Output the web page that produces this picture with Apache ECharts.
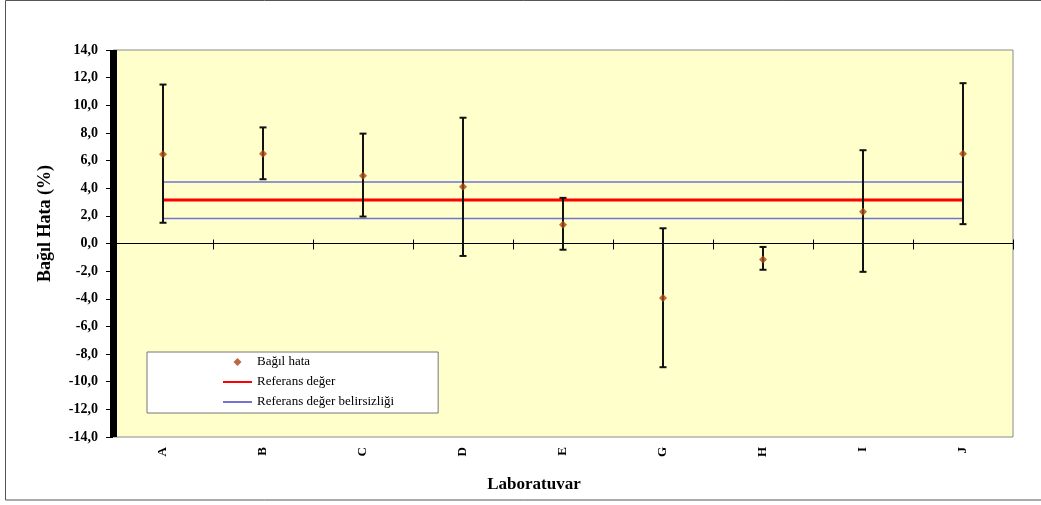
<!DOCTYPE html>
<html>
<head>
<meta charset="utf-8">
<script src="https://cdn.jsdelivr.net/npm/echarts@6/dist/echarts.min.js"></script>
<style>html,body{margin:0;padding:0;background:#fff}#c{width:1041px;height:505px}</style>
</head>
<body>
<div id="c"></div>
<script>
// ---- data ----
var labs = ['A', 'B', 'C', 'D', 'E', 'G', 'H', 'I', 'J'];
var relErr = [6.45, 6.5, 4.9, 4.1, 1.35, -3.95, -1.15, 2.3, 6.5];
var upper = [11.5, 8.4, 7.95, 9.1, 3.3, 1.1, -0.25, 6.75, 11.6];
var lower = [1.5, 4.65, 1.95, -0.9, -0.45, -8.95, -1.9, -2.05, 1.4];
var refValue = 3.15;
var refUpper = 4.45;
var refLower = 1.8;
var yTicks = { min: -14, max: 14, interval: 2 };

var serif = "'Liberation Serif', 'DejaVu Serif', serif";
var chart = echarts.init(document.getElementById('c'));
var errData = labs.map(function (l, i) { return [i, lower[i], upper[i]]; });

chart.setOption({
  backgroundColor: '#ffffff',
  animation: false,
  graphic: [{
    type: 'rect', z: -10, silent: true,
    shape: { x: 5.5, y: 0.5, width: 1100, height: 499.5 },
    style: { fill: 'none', stroke: '#555', lineWidth: 1 }
  }],
  grid: {
    left: 113, right: 28, top: 50, bottom: 68,
    show: true, backgroundColor: '#FFFFCC', borderColor: '#8a8a8a', borderWidth: 1
  },
  legend: {
    orient: 'vertical',
    left: 147, top: 352,
    padding: [3, 44, 4, 75],
    backgroundColor: '#ffffff',
    borderColor: '#777', borderWidth: 1,
    itemWidth: 29, itemHeight: 8, itemGap: 6,
    symbolKeepAspect: true,
    textStyle: { fontFamily: serif, fontSize: 13, color: '#000', lineHeight: 14 },
    data: [
      { name: 'Bağıl hata', icon: 'path://M4,0L8,4L4,8L0,4Z' },
      { name: 'Referans değer', itemStyle: { opacity: 0 } },
      { name: 'Referans değer belirsizliği', itemStyle: { opacity: 0 } }
    ]
  },
  xAxis: [{
    type: 'category', data: labs, position: 'bottom', boundaryGap: true,
    axisLine: { onZero: true, lineStyle: { color: '#000', width: 1 } },
    axisTick: { show: true, length: 6, lineStyle: { color: '#000' } },
    axisLabel: { show: false }, splitLine: { show: false }
  }, {
    type: 'category', data: labs, position: 'top', boundaryGap: true,
    axisLine: { onZero: true, lineStyle: { color: '#000', width: 1 } },
    axisTick: { show: true, length: 4, lineStyle: { color: '#000' } },
    axisLabel: { show: false }, splitLine: { show: false }
  }, {
    type: 'category', data: labs, position: 'bottom', boundaryGap: true,
    axisLine: { show: false, onZero: false }, axisTick: { show: false },
    axisLabel: {
      show: true, rotate: 90, margin: 10,
      fontFamily: serif, fontWeight: 'bold', fontSize: 13, color: '#000'
    },
    name: 'Laboratuvar', nameLocation: 'middle', nameGap: 39,
    nameTextStyle: { fontFamily: serif, fontWeight: 'bold', fontSize: 17, color: '#000', padding: [0, 58, 0, 0] }
  }],
  yAxis: [{
    type: 'value', min: yTicks.min, max: yTicks.max, interval: yTicks.interval,
    axisLine: { show: true, onZero: false, lineStyle: { color: '#000', width: 7, cap: 'butt' } },
    axisTick: { show: true, length: 7, lineStyle: { color: '#000' } },
    splitLine: { show: false },
    axisLabel: {
      margin: 15, fontFamily: serif, fontWeight: 'bold', fontSize: 14, color: '#000',
      formatter: function (v) { return v.toFixed(1).replace('.', ','); }
    },
    name: 'Bağıl Hata (%)', nameLocation: 'middle', nameGap: 59,
    nameTextStyle: { fontFamily: serif, fontWeight: 'bold', fontSize: 18, color: '#000', padding: [0, 0, 0, 40] }
  }, {
    type: 'value', position: 'right', min: yTicks.min, max: yTicks.max, interval: yTicks.interval,
    axisLine: { show: false, onZero: false }, axisTick: { show: false },
    axisLabel: { show: false }, splitLine: { show: false }
  }],
  series: [{
    name: 'Referans değer belirsizliği', type: 'line', xAxisIndex: 0,
    data: labs.map(function () { return refUpper; }),
    symbol: 'none', showSymbol: false, z: 2,
    lineStyle: { color: '#7373D2', width: 1.5 }, itemStyle: { color: '#7373D2' }
  }, {
    name: 'Referans değer belirsizliği', type: 'line', xAxisIndex: 0,
    data: labs.map(function () { return refLower; }),
    symbol: 'none', showSymbol: false, z: 2,
    lineStyle: { color: '#7373D2', width: 1.5 }, itemStyle: { color: '#7373D2' }
  }, {
    name: 'Referans değer', type: 'line', xAxisIndex: 0,
    data: labs.map(function () { return refValue; }),
    symbol: 'none', showSymbol: false, z: 3,
    lineStyle: { color: '#FF0000', width: 3 }, itemStyle: { color: '#FF0000' }
  }, {
    name: 'errbars', type: 'custom', xAxisIndex: 0, z: 4,
    encode: { x: 0, y: [1, 2] },
    data: errData,
    renderItem: function (params, api) {
      var lo = api.coord([api.value(0), api.value(1)]);
      var hi = api.coord([api.value(0), api.value(2)]);
      var w = 3.5;
      var st = { stroke: '#111', lineWidth: 2 };
      return {
        type: 'group',
        children: [
          { type: 'line', shape: { x1: lo[0], y1: lo[1], x2: hi[0], y2: hi[1] }, style: st },
          { type: 'line', shape: { x1: hi[0] - w, y1: hi[1], x2: hi[0] + w, y2: hi[1] }, style: st },
          { type: 'line', shape: { x1: lo[0] - w, y1: lo[1], x2: lo[0] + w, y2: lo[1] }, style: st }
        ]
      };
    }
  }, {
    name: 'Bağıl hata', type: 'scatter', xAxisIndex: 0, z: 5,
    data: relErr, symbol: 'diamond', symbolSize: 8,
    itemStyle: { color: '#A8450F' }
  }]
});
</script>
</body>
</html>
